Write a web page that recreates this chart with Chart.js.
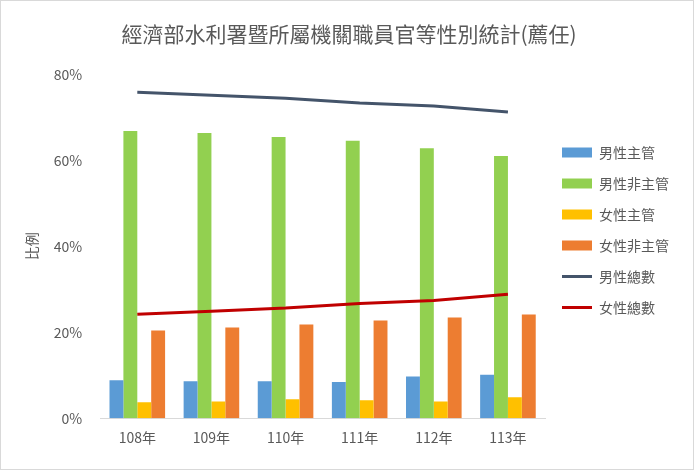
<!DOCTYPE html>
<html><head><meta charset="utf-8">
<script src="https://cdn.jsdelivr.net/npm/chart.js@4"></script>
<style>html,body{margin:0;padding:0;background:#fff}#w{position:absolute;left:0;top:0;width:692px;height:468px;border:1px solid #d9d9d9}</style>
</head><body><div id="w"><canvas id="c"></canvas></div>
<script>
const categories=['108年','109年','110年','111年','112年','113年'];
const maleSup=[8.8,8.6,8.6,8.4,9.7,10.1];
const maleNonSup=[66.8,66.3,65.4,64.5,62.8,61.0];
const femaleSup=[3.7,3.9,4.4,4.2,3.9,4.9];
const femaleNonSup=[20.4,21.1,21.8,22.7,23.4,24.1];
const maleTotal=[75.8,75.1,74.4,73.3,72.6,71.2];
const femaleTotal=[24.2,24.9,25.6,26.7,27.4,28.8];
const F='"Microsoft JhengHei","Noto Sans CJK TC",sans-serif';
new Chart(document.getElementById('c'),{
data:{labels:categories,datasets:[
{type:'bar',label:'男性主管',data:maleSup,backgroundColor:'#5b9bd5',order:2,pointStyle:'rect'},
{type:'bar',label:'男性非主管',data:maleNonSup,backgroundColor:'#92d050',order:2,pointStyle:'rect'},
{type:'bar',label:'女性主管',data:femaleSup,backgroundColor:'#ffc000',order:2,pointStyle:'rect'},
{type:'bar',label:'女性非主管',data:femaleNonSup,backgroundColor:'#ed7d31',order:2,pointStyle:'rect'},
{type:'line',label:'男性總數',data:maleTotal,borderColor:'#44546a',backgroundColor:'#44546a',borderWidth:3,pointRadius:0,pointStyle:'line',order:1},
{type:'line',label:'女性總數',data:femaleTotal,borderColor:'#c00000',backgroundColor:'#c00000',borderWidth:3,pointRadius:0,pointStyle:'line',order:1}
]},
options:{responsive:true,maintainAspectRatio:false,animation:false,
layout:{padding:{left:18,right:14,top:10,bottom:20}},
datasets:{bar:{categoryPercentage:0.75,barPercentage:1}},
plugins:{
title:{display:true,text:'經濟部水利署暨所屬機關職員官等性別統計(薦任)',font:{family:F,size:21,weight:'normal'},color:'#595959',padding:{top:10,bottom:28}},
legend:{position:'right',labels:{sort:(a,b)=>a.datasetIndex-b.datasetIndex,usePointStyle:true,pointStyleWidth:30,font:{family:F,size:14},color:'#595959',boxHeight:10,padding:17}},
tooltip:{enabled:false}},
scales:{
x:{grid:{display:false},border:{color:'#d9d9d9'},ticks:{font:{family:F,size:14},color:'#595959'}},
y:{min:0,max:80,ticks:{stepSize:20,callback:v=>v+'%',font:{family:F,size:14},color:'#595959',padding:10},
grid:{display:false},border:{display:false},
title:{display:true,text:'比例',font:{family:F,size:14},color:'#595959'}}}}
});
</script></body></html>
